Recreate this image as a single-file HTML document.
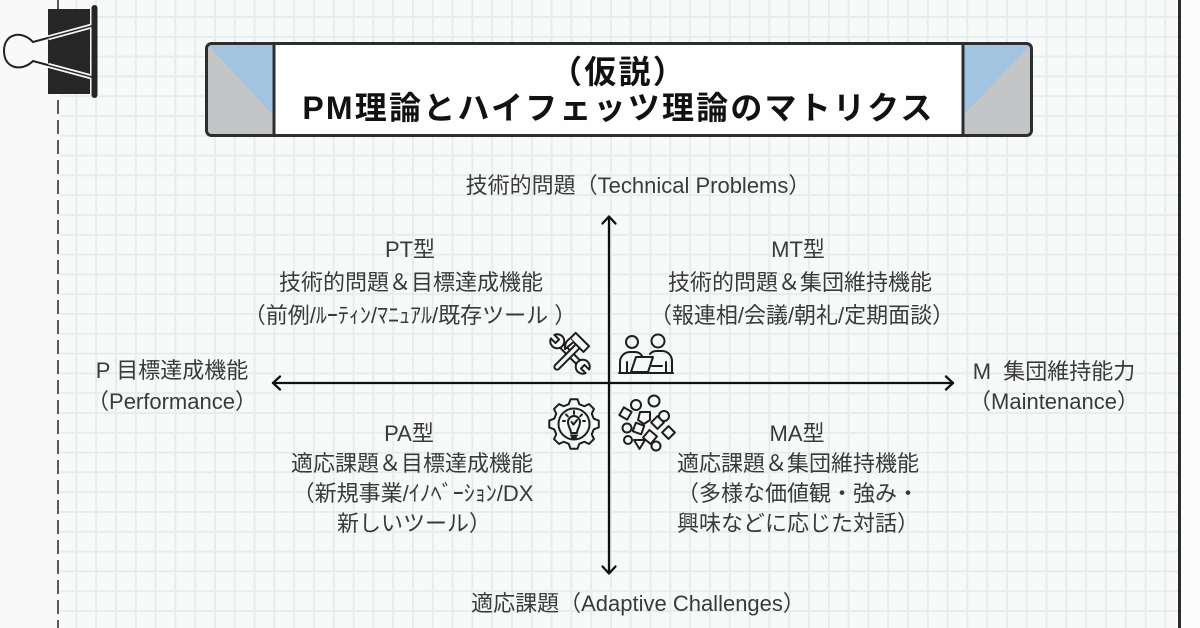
<!DOCTYPE html>
<html><head><meta charset="utf-8">
<style>
html,body{margin:0;padding:0;}
body{width:1200px;height:628px;position:relative;overflow:hidden;background:#f9f9f9;font-family:"Liberation Sans","Noto Sans CJK JP",sans-serif;}
svg{position:absolute;left:0;top:0;}
.t{position:absolute;white-space:nowrap;font-size:22px;line-height:30px;height:30px;color:#3a3a3a;transform:translateX(-50%);}
.h{position:absolute;left:274px;width:689px;text-align:center;white-space:nowrap;font-size:32px;font-weight:bold;color:#111;letter-spacing:2.2px;line-height:36px;height:36px;}
</style></head><body>
<svg width="1200" height="628" viewBox="0 0 1200 628">
<defs>
<pattern id="grid" patternUnits="userSpaceOnUse" x="16" y="16" width="19.8" height="19.8">
<rect x="0" y="0" width="19.8" height="19.8" fill="#f8fafa"/>
<rect x="0" y="0" width="1.9" height="19.8" fill="#e5edef"/>
<rect x="0" y="0" width="19.8" height="1.9" fill="#e5edef"/>
</pattern>
</defs>
<rect x="0" y="0" width="1200" height="628" fill="#f9f9f9"/>
<rect x="59" y="0" width="1119" height="628" fill="url(#grid)"/>
<rect x="1181" y="0" width="19" height="628" fill="#fcfcfc"/>
<rect x="1178" y="0" width="3" height="628" fill="#2b2b2b"/>
<line x1="58" y1="0" x2="58" y2="628" stroke="#333" stroke-width="1.6" stroke-dasharray="14 6"/>

<!-- binder clip -->
<path d="M92 26 L33 42 C22 30 4 33 4 51 C4 69 22 72 33 61 L92 77" fill="none" stroke="#222" stroke-width="2"/>
<rect x="48" y="9" width="42" height="85" fill="#262626"/>
<line x1="48" y1="37.9" x2="91" y2="26.2" stroke="#f4f4f4" stroke-width="5"/>
<line x1="48" y1="37.9" x2="91" y2="26.2" stroke="#262626" stroke-width="1.5"/>
<line x1="48" y1="65.3" x2="91" y2="76.8" stroke="#f4f4f4" stroke-width="5"/>
<line x1="48" y1="65.3" x2="91" y2="76.8" stroke="#262626" stroke-width="1.5"/>
<rect x="91.5" y="5" width="6" height="93" rx="3" fill="#262626"/>

<!-- title box -->
<rect x="206.5" y="43.5" width="825" height="92" rx="5" fill="#fefefe"/>
<polygon points="207,44 274,44 274,135 207,135" fill="#c3c5c6"/>
<polygon points="207,44 274,44 274,116" fill="#a3c4e1"/>
<polygon points="963,44 1031,44 1031,135 963,135" fill="#c3c5c6"/>
<polygon points="963,44 1031,44 963,116" fill="#a3c4e1"/>
<rect x="206.5" y="43.5" width="825" height="92" rx="5" fill="none" stroke="#2e2e2e" stroke-width="3"/>
<line x1="274" y1="44" x2="274" y2="135" stroke="#2e2e2e" stroke-width="3"/>
<line x1="963" y1="44" x2="963" y2="135" stroke="#2e2e2e" stroke-width="3"/>

<!-- axes -->
<g stroke="#111" stroke-width="2.3" fill="none" stroke-linecap="round" stroke-linejoin="round">
<line x1="609" y1="217" x2="609" y2="573"/>
<polyline points="602.5,223.5 609,216.5 615.5,223.5"/>
<polyline points="602.5,566.5 609,573.5 615.5,566.5"/>
<line x1="273" y1="383" x2="953" y2="383"/>
<polyline points="280,376.5 273,383 280,389.5"/>
<polyline points="946,376.5 953,383 946,389.5"/>
</g>

<!-- icon: tools -->
<g stroke="#1e1e1e" stroke-width="2" fill="#f8fafa" stroke-linejoin="round">
<g transform="translate(570,354) rotate(45)">
<rect x="-15" y="-2.6" width="30" height="5.2" rx="2.6"/>
<path d="M-27.54 -2.5 L-21 -2.5 L-21 2.5 L-27.54 2.5 A7 7 0 1 0 -27.54 -2.5 Z" transform="translate(3,0)"/>
<path d="M27.54 -2.5 L21 -2.5 L21 2.5 L27.54 2.5 A7 7 0 1 1 27.54 -2.5 Z" transform="translate(-3,0)"/>
</g>
<g transform="translate(570,354) rotate(-45)">
<rect x="-21" y="-2.7" width="33" height="5.4" rx="2.7"/>
<path d="M11 -11 L19 -11 L19 8 L11 8 Z"/>
<path d="M11 -11 C6 -12 2 -10 0 -7 L11 -6"/>
</g>
</g>

<!-- icon: people with laptop -->
<g stroke="#1e1e1e" stroke-width="2" fill="none" stroke-linecap="round" stroke-linejoin="round">
<circle cx="632" cy="342" r="6"/>
<circle cx="658" cy="341" r="6.5"/>
<path d="M620 372 V362 a10 10 0 0 1 10 -10 h5 a8 8 0 0 1 7 4"/>
<path d="M672 372 V361 a10 10 0 0 0 -10 -10 h-6 a8 8 0 0 0 -6 3"/>
<path d="M627 372 V362"/>
<path d="M666 372 V362"/>
<path d="M636 357 L653 357 L648 372 L631 372 Z"/>
<path d="M619 373 L673 373"/>
<path d="M652 366 L662 366"/>
</g>

<!-- icon: gear with bulb -->
<g transform="translate(574,424)" stroke="#1e1e1e" stroke-width="2" fill="none" stroke-linejoin="round" stroke-linecap="round">
<polygon points="19.80,-5.31 24.76,-3.48 24.76,3.48 19.80,5.31 17.75,10.25 19.97,15.05 15.05,19.97 10.25,17.75 5.31,19.80 3.48,24.76 -3.48,24.76 -5.31,19.80 -10.25,17.75 -15.05,19.97 -19.97,15.05 -17.75,10.25 -19.80,5.31 -24.76,3.48 -24.76,-3.48 -19.80,-5.31 -17.75,-10.25 -19.97,-15.05 -15.05,-19.97 -10.25,-17.75 -5.31,-19.80 -3.48,-24.76 3.48,-24.76 5.31,-19.80 10.25,-17.75 15.05,-19.97 19.97,-15.05 17.75,-10.25"/>
<circle cx="0" cy="0" r="15.5"/>
<path d="M-3 9 C-3 5 -6 3 -6 -2 A6 6 0 0 1 6 -2 C6 3 3 5 3 9 Z"/>
<path d="M-3 11.5 H3 M-2 13.5 H2"/>
<path d="M-2.5 -2 L-0.5 0.5 L3 -4"/>
<path d="M0 -13 V-10 M-8 -9.5 L-6.2 -7.7 M8 -9.5 L6.2 -7.7 M-11 -3 H-9 M11 -3 H9"/>
</g>

<!-- icon: diverse shapes -->
<g stroke="#1e1e1e" stroke-width="2" fill="#f8fafa" stroke-linejoin="round">
<circle cx="636" cy="405" r="5"/>
<circle cx="654" cy="401" r="5.5"/>
<rect x="621" y="409" width="9" height="9" transform="rotate(30 625.5 413.5)"/>
<path d="M640 412 L650 412 L650 420 L644 424 L638 420 Z"/>
<circle cx="664" cy="416" r="5"/>
<rect x="653" y="418" width="9" height="9" transform="rotate(45 657.5 422.5)"/>
<circle cx="627" cy="428" r="4.5"/>
<rect x="634" y="424" width="9" height="9" transform="rotate(20 638.5 428.5)"/>
<rect x="664" y="428" width="9" height="9" transform="rotate(45 668.5 432.5)"/>
<circle cx="628" cy="440" r="4"/>
<rect x="645" y="432" width="10" height="10" transform="rotate(40 650 437)"/>
<path d="M634 440 L645 440 L639.5 449 Z"/>
<circle cx="656" cy="446" r="4.5"/>
</g>
</svg>

<div class="h" style="top:53.5px;">（仮説）</div>
<div class="h" style="top:90px;">PM理論とハイフェッツ理論のマトリクス</div>

<div class="t" style="left:638px;top:171px;">技術的問題（Technical Problems）</div>

<div class="t" style="left:410px;top:235px;">PT型</div>
<div class="t" style="left:411px;top:268px;">技術的問題＆目標達成機能</div>
<div class="t" style="left:410px;top:301px;">（前例/ﾙｰﾃｨﾝ/ﾏﾆｭｱﾙ/既存ツール ）</div>

<div class="t" style="left:798px;top:235px;">MT型</div>
<div class="t" style="left:800px;top:268px;">技術的問題＆集団維持機能</div>
<div class="t" style="left:802px;top:301px;">（報連相/会議/朝礼/定期面談）</div>

<div class="t" style="left:172px;top:356px;">P 目標達成機能</div>
<div class="t" style="left:172px;top:387px;">（Performance）</div>

<div class="t" style="left:1054px;top:357px;">M&nbsp; 集団維持能力</div>
<div class="t" style="left:1054px;top:387px;">（Maintenance）</div>

<div class="t" style="left:409px;top:419px;">PA型</div>
<div class="t" style="left:412px;top:449px;">適応課題＆目標達成機能</div>
<div class="t" style="left:413px;top:479px;">（新規事業/ｲﾉﾍﾞｰｼｮﾝ/DX</div>
<div class="t" style="left:414px;top:509px;">新しいツール）</div>

<div class="t" style="left:797px;top:419px;">MA型</div>
<div class="t" style="left:798px;top:449px;">適応課題＆集団維持機能</div>
<div class="t" style="left:798px;top:479px;">（多様な価値観・強み・</div>
<div class="t" style="left:798px;top:509px;">興味などに応じた対話）</div>

<div class="t" style="left:638px;top:589px;">適応課題（Adaptive Challenges）</div>
</body></html>
